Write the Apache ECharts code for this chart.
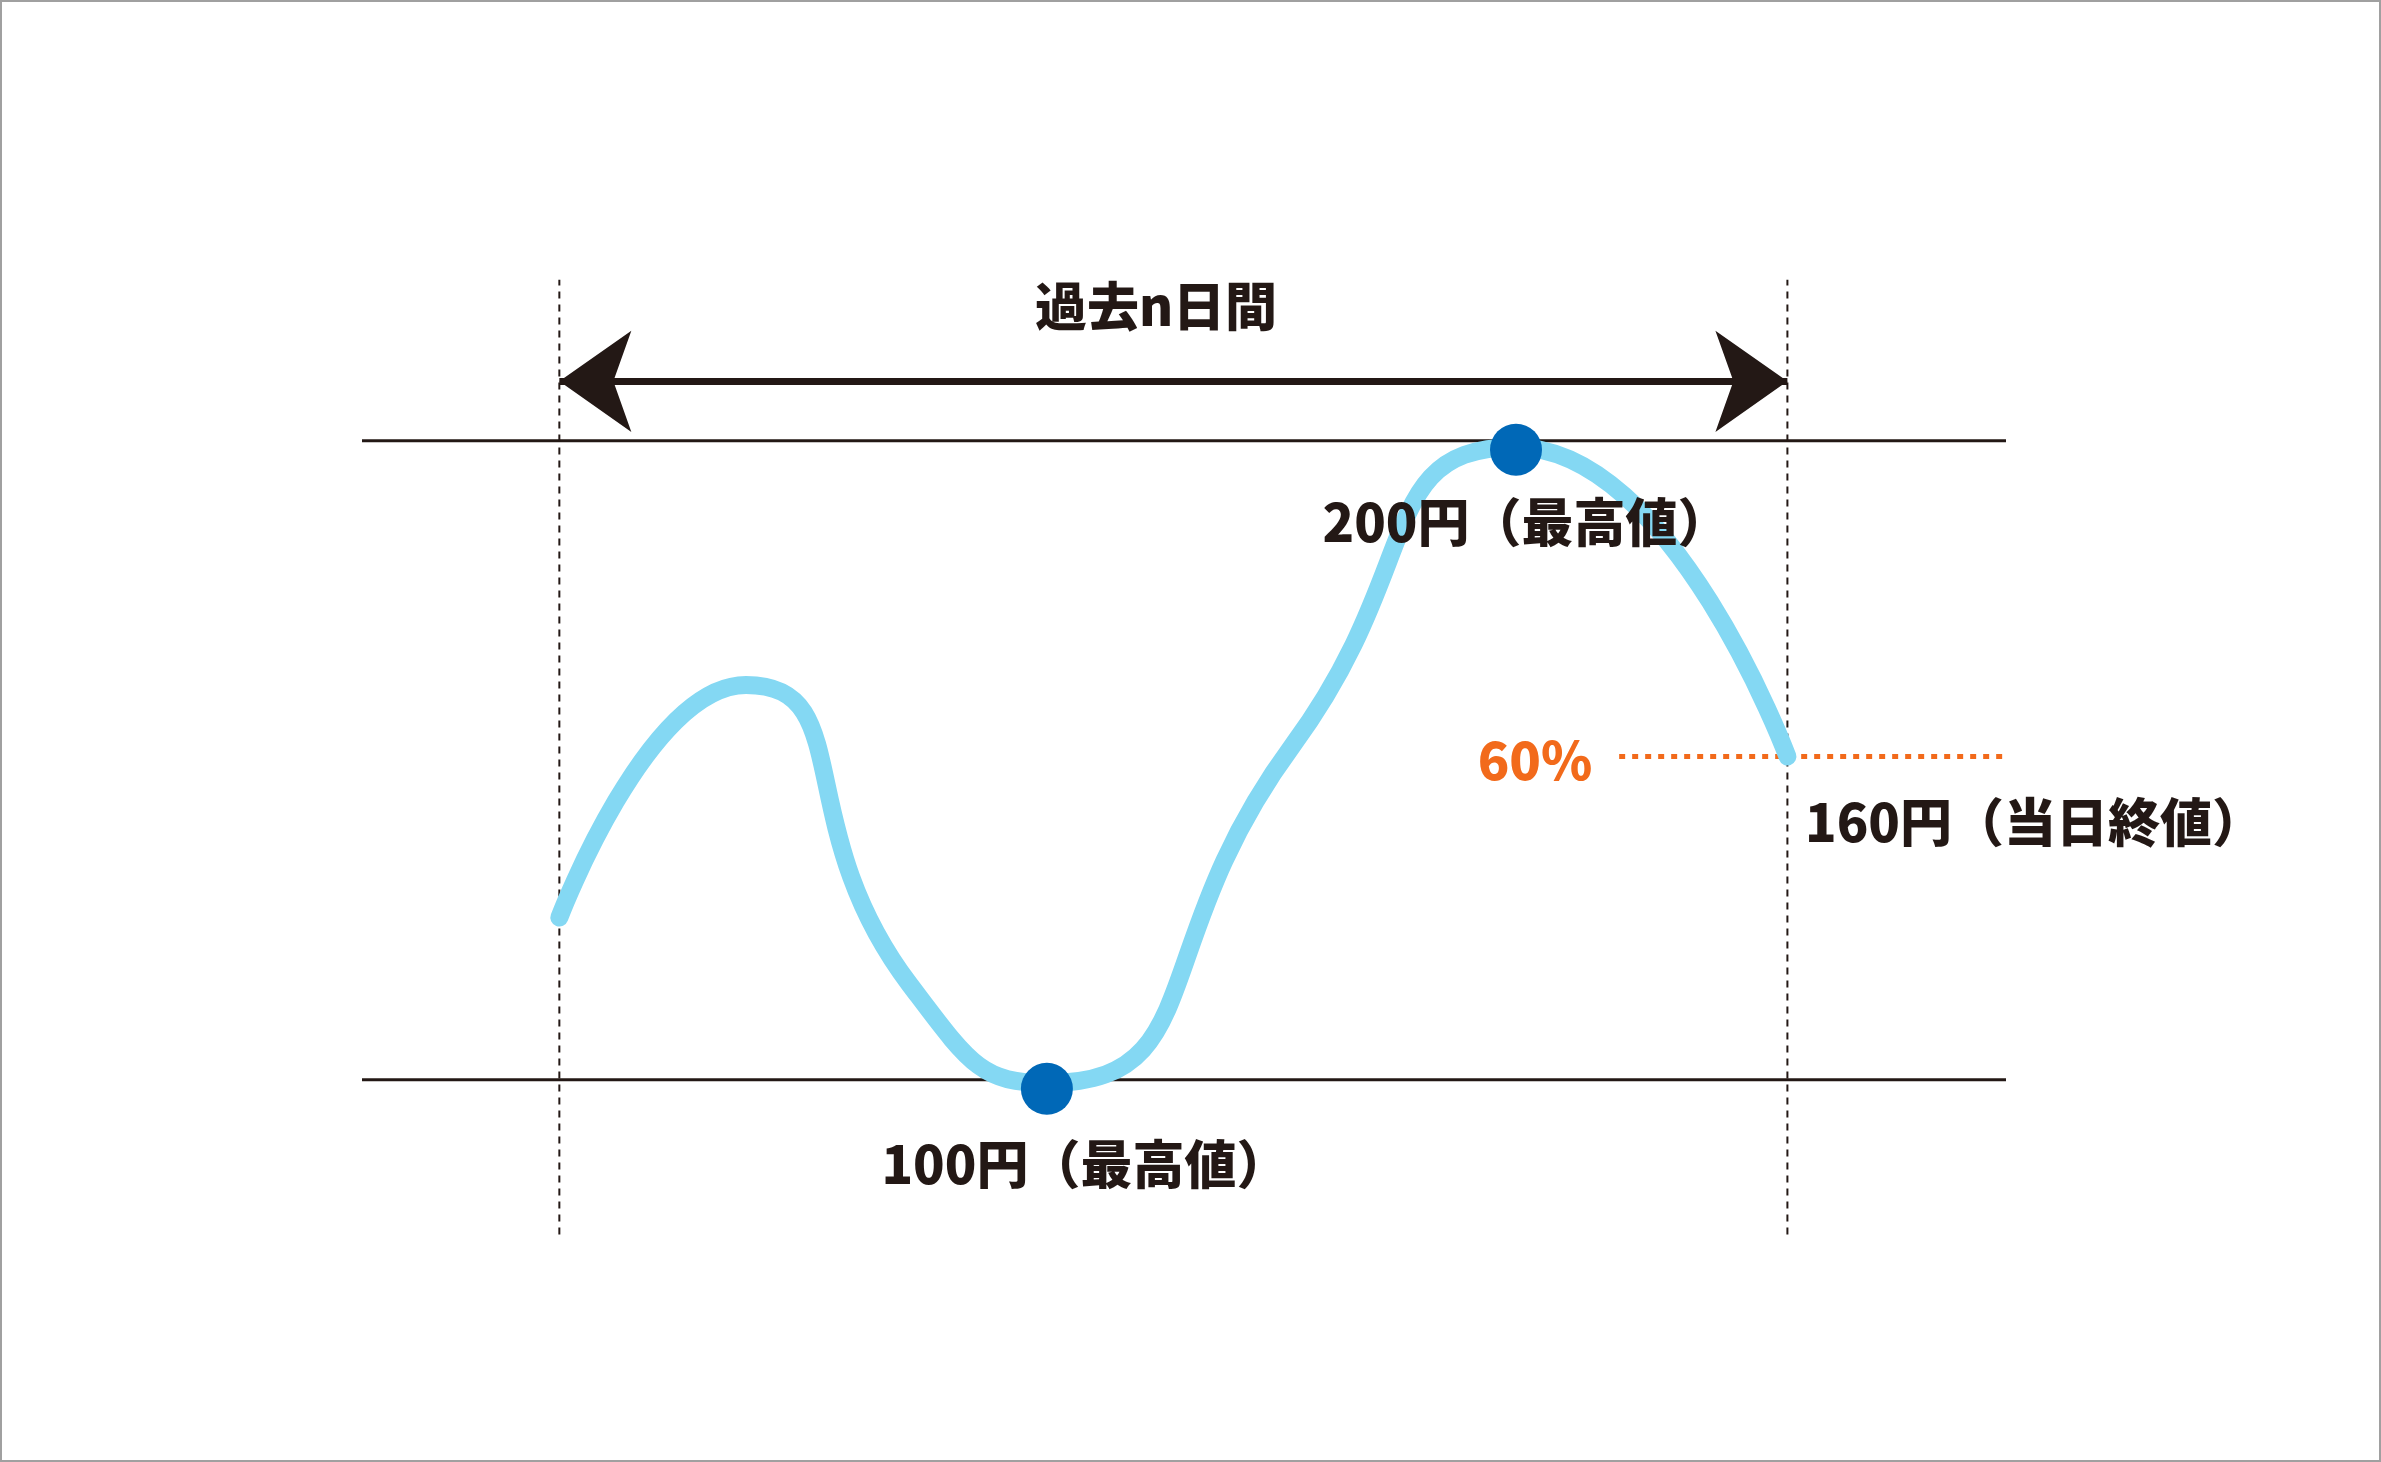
<!DOCTYPE html>
<html><head><meta charset="utf-8">
<script src="https://cdn.jsdelivr.net/npm/echarts@6/dist/echarts.min.js"></script>
<style>html,body{margin:0;padding:0;background:#fff}#c{width:2381px;height:1462px;box-sizing:border-box;border:2px solid #a0a0a0}</style>
</head><body><div id="c"></div>
<script>
const curveX=[0,15.2,28.5,39.7,59.7,77.9,100];
const curveY=[125.4,161.8,115.0,99.5,152.3,199.0,150.6];
const lowPoint=[39.7,98.6], highPoint=[77.9,198.6];
const lowLabel='100円（最高値）', highLabel='200円（最高値）', closeLabel='160円（当日終値）';
const title='過去n日間', pctLabel='60%';
const lowLine=100, highLine=200, closeLevel=150.6, arrowLevel=209.3, pctStart=86.3;
const ink='#231815', font='"Noto Sans CJK JP"';
const chart=echarts.init(document.getElementById('c'));
const lineS=(data,style)=>({type:'line',data,symbol:'none',silent:true,lineStyle:style,z:1});
chart.setOption({
 animation:false,
 grid:{left:360,width:1644,top:247,height:1022.6},
 xAxis:{type:'value',min:-16.07,max:117.8,show:false},
 yAxis:{type:'value',min:70,max:230,show:false},
 series:[
  lineS([[-16.07,lowLine],[117.8,lowLine]],{color:ink,width:3}),
  lineS([[-16.07,highLine],[117.8,highLine]],{color:ink,width:3}),
  lineS([[0,75.8],[0,225.2]],{color:ink,width:2,type:[7,6]}),
  lineS([[100,75.8],[100,225.2]],{color:ink,width:2,type:[7,6]}),
  lineS([[pctStart,closeLevel],[117.8,closeLevel]],{color:'#f26a1b',width:5,type:[6,7]}),
  {type:'line',data:[],markLine:{silent:true,symbol:['arrow','arrow'],symbolSize:[76,72],label:{show:false},
    lineStyle:{color:ink,width:7,type:'solid'},data:[[{coord:[0,arrowLevel]},{coord:[100,arrowLevel]}]]}},
  {type:'line',data:curveX.map((x,i)=>[x,curveY[i]]),smooth:0.6,smoothMonotone:'none',symbol:'none',lineStyle:{color:'#84d8f3',width:18,cap:'round'},z:2},
  {type:'scatter',symbolSize:52,itemStyle:{color:'#0068b7',opacity:1},z:3,
   label:{show:true,position:'bottom',color:ink,fontFamily:font,fontWeight:900,fontSize:52},
   data:[{value:lowPoint,label:{formatter:lowLabel,offset:[38,18]}},{value:highPoint,label:{formatter:highLabel,offset:[10,16]}}]}
 ],
 graphic:[
  {type:'text',style:{text:title,x:1154,y:304,align:'center',verticalAlign:'middle',fill:ink,font:'900 52px '+font}},
  {type:'text',style:{text:pctLabel,x:1533,y:758,align:'center',verticalAlign:'middle',fill:'#f26a1b',font:'900 52px '+font}},
  {type:'text',style:{text:closeLabel,x:1803,y:820,align:'left',verticalAlign:'middle',fill:ink,font:'900 52px '+font}}
 ]
});
</script></body></html>
